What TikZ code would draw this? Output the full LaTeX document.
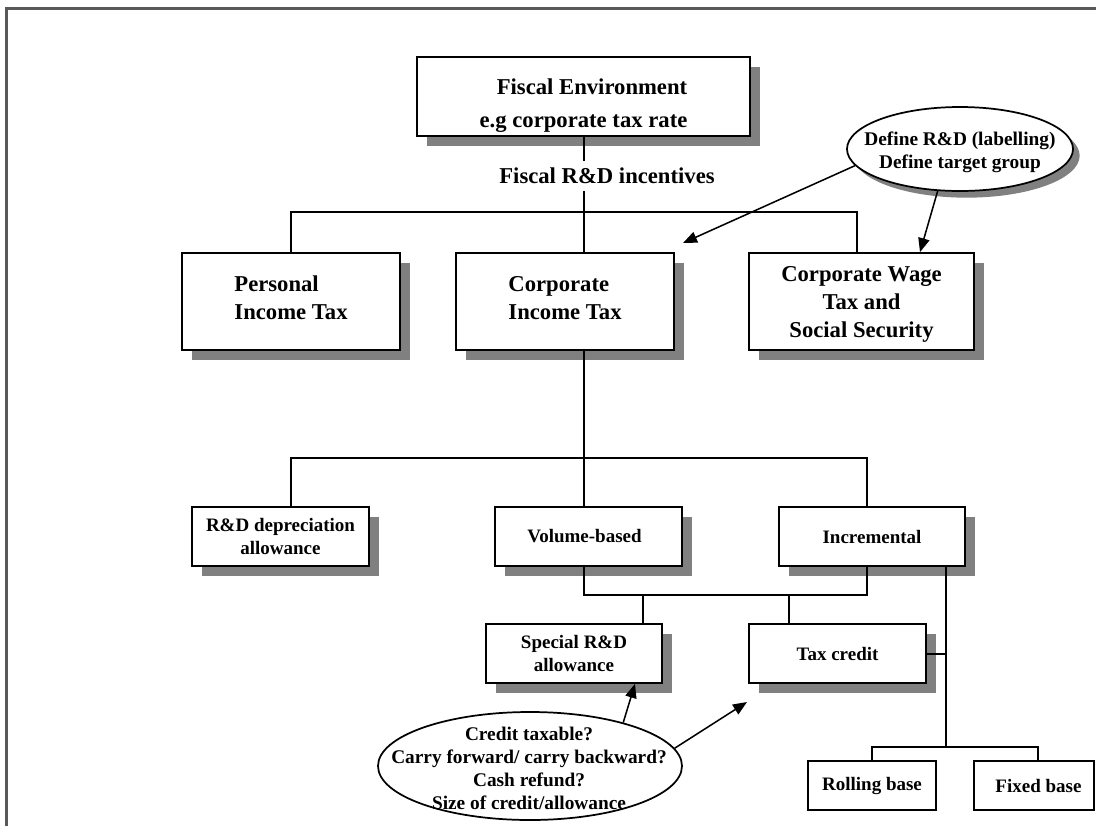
\documentclass[tikz,border=0pt]{standalone}
\usepackage{fontspec}
\setmainfont{Liberation Serif}
\usetikzlibrary{arrows.meta,shapes.geometric,shadows,calc}
\newcommand\bigtxt{\bfseries\fontsize{17}{21}\selectfont}
\newcommand\smtxt{\bfseries\fontsize{14.25}{17.25}\selectfont}
\newcommand\eltxt{\bfseries\fontsize{14.5}{17.25}\selectfont}
\begin{document}
\begin{tikzpicture}[x=0.75pt,y=-0.75pt,
  conn/.style={line width=1.5pt},
  arr/.style={line width=1.15pt,-{Triangle[length=10.5pt,width=8.5pt]}},
  shad/.style={drop shadow={shadow xshift=7.5pt,shadow yshift=-7.5pt,fill=black!50,opacity=1}},
  eshad/.style={drop shadow={shadow xshift=5pt,shadow yshift=-5pt,fill=black!50,opacity=1}},
  boxbase/.style={draw,line width=1.3pt,fill=white,inner sep=0pt},
  bigbox/.style={boxbase,shad,font=\bigtxt},
  smbox/.style={boxbase,shad,font=\smtxt,align=center,minimum height=44.25pt},
  plainbox/.style={boxbase,font=\smtxt,minimum height=36.75pt},
  oval/.style={ellipse,draw,line width=1.3pt,fill=white,inner sep=0pt},
  ovaltext/.style={font=\eltxt,align=center,inner sep=0pt}
]
\useasboundingbox (0,0) rectangle (1096,825);
\clip (0,0) rectangle (1096,825);
% frame
\draw[line width=2.25pt,black!65] (6,830) -- (6,8) -- (1100,8);

% boxes
\node[bigbox,align=center,minimum width=249.75pt,minimum height=59.25pt] (fe) at (583.5,96.5)
  {\rule{0pt}{25pt}\hspace{12.75pt}Fiscal Environment\\[3.75pt]e.g corporate tax rate\hspace{5.25pt}};
\node[bigbox,align=left,minimum width=163.5pt,minimum height=72.75pt] (pit) at (291,301.5) {Personal\\Income Tax\rule[-6pt]{0pt}{0pt}};
\node[bigbox,align=left,minimum width=163.5pt,minimum height=72.75pt] (cit) at (565,301.5) {Corporate\\Income Tax\rule[-6pt]{0pt}{0pt}};
\node[bigbox,align=center,minimum width=168.75pt,minimum height=72.75pt] (wtx) at (861.5,301.5)
  {\rule{0pt}{15pt}Corporate Wage\hspace{15pt}\\Tax and\hspace{15pt}\\Social Security\hspace{15pt}};

\node[smbox,minimum width=132.75pt] (dep) at (280.5,536.5) {R\&D depreciation\\allowance};
\node[smbox,minimum width=140.25pt] (vol) at (588.5,536.5) {Volume-based\hspace{6pt}};
\node[smbox,minimum width=139.5pt] (inc) at (872,536.5) {Incremental};
\node[smbox,minimum width=132pt] (spc) at (574,653.5) {Special R\&D\\allowance};
\node[smbox,minimum width=132.75pt] (tcr) at (837.5,653.5) {Tax credit};
\node[plainbox,minimum width=96pt] (rol) at (872,785.5) {Rolling base};
\node[plainbox,minimum width=90pt] (fix) at (1034,785.5) {\hspace{6.75pt}Fixed base};

% ellipses
\node[oval,eshad,minimum width=169.5pt,minimum height=63pt] (de) at (960,149) {};
\node[ovaltext] (det) at (960,152) {Define R\&D (labelling)\\Define target group};
\node[oval,minimum width=228pt,minimum height=81pt] (qs) at (530,766) {};
\node[ovaltext] (qst) at (529,768) {Credit taxable?\\Carry forward/ carry backward?\\Cash refund?\\Size of credit/allowance};

% junction coordinates
\coordinate (h1) at (584,212);
\coordinate (h2) at (584,458);
\coordinate (h3) at (643,595);
\coordinate (h4) at (946,747);
\coordinate (xa) at (291,0);
\coordinate (xc) at (857,0);
\coordinate (xd) at (867,0);
\coordinate (xf) at (789,0);
\coordinate (xh) at (872,0);
\coordinate (xi) at (1038,0);
\coordinate (a1) at (683,243);
\coordinate (a2x) at (920,0);
\coordinate (b1x) at (635,0);
\coordinate (b2) at (747,702);

% connectors
\draw[conn] (fe.south -| h1) -- (h1);
\draw[conn] (h1) -- (cit.north -| h1);
\draw[conn] (pit.north -| xa) |- (h1) -| (wtx.north -| xc);
\draw[conn] (cit.south -| h2) -- (vol.north -| h2);
\draw[conn] (dep.north -| xa) |- (h2) -| (inc.north -| xd);
\draw[conn] (vol.south -| h2) |- (h3) -| (inc.south -| xd);
\draw[conn] (h3) -- (spc.north -| h3);
\draw[conn] (xf |- h3) -- (tcr.north -| xf);
\draw[conn] (inc.south -| h4) -- (h4);
\draw[conn] (tcr.east) -- (tcr.east -| h4);
\draw[conn] (rol.north -| xh) |- (h4) -| (fix.north -| xi);

% label on trunk
\node[font=\bigtxt,fill=white,inner xsep=2pt,inner ysep=5pt] (fri) at (607,176) {Fiscal R\&D incentives};

% arrows
\draw[arr] (de.189) -- (a1);
\draw[arr] (de.242) -- (wtx.north -| a2x);
\draw[arr] (qs.25) -- (spc.south -| b1x);
\draw[arr] (qs.7) -- (b2);
\end{tikzpicture}
\end{document}
